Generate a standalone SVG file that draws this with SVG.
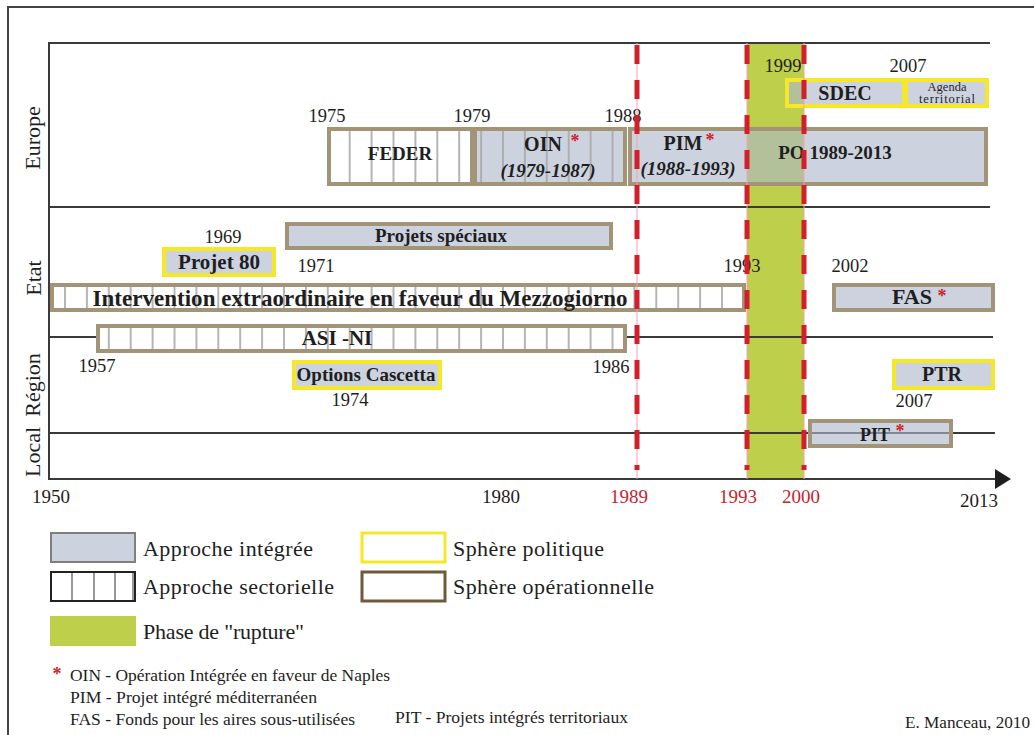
<svg xmlns="http://www.w3.org/2000/svg" width="1034" height="735" viewBox="0 0 1034 735">
<style>
text{font-family:"Liberation Serif","Times New Roman",serif;fill:#1e1e1e}
.b{font-weight:bold}
.bi{font-weight:bold;font-style:italic}
.yr{font-size:18.5px;text-anchor:middle}
.ax{font-size:19px;text-anchor:middle}
.red{fill:#c8232d}
.ast{fill:#d0202a;font-weight:bold;font-size:18px;text-anchor:middle}
.row{font-size:22px;text-anchor:middle}
.grid{stroke:#3a3a3a;stroke-width:2;fill:none}
.op{stroke:#a39377;stroke-width:4}
.po{stroke:#f5e82a;stroke-width:4}
.int{fill:#adb8cb;fill-opacity:0.62}
.wh{fill:#ffffff}
.note{font-size:16px}
.leg{font-size:22px}
.small{font-size:12.5px;text-anchor:middle}
</style>
<defs>
<pattern id="hatch" patternUnits="userSpaceOnUse" x="64" y="0" width="21.9" height="10">
<rect x="0" y="0" width="2" height="10" fill="#a8a8a8" fill-opacity="0.85"/>
</pattern>
</defs>

<!-- frame -->
<path d="M8 735 V7 H1034" stroke="#444" stroke-width="2" fill="none"/>

<!-- rupture phase -->
<rect id="rupture" x="747" y="43" width="57" height="436" fill="#bdcf4b"/>

<!-- grid -->
<g id="grid">
<line class="grid" x1="48" y1="43" x2="990" y2="43"/>
<line class="grid" x1="48" y1="207" x2="990" y2="207"/>
<line class="grid" x1="48" y1="337" x2="993" y2="337"/>
<line class="grid" x1="48" y1="433" x2="995" y2="433"/>
<line class="grid" x1="49" y1="42" x2="49" y2="480"/>
<line class="grid" x1="48" y1="479" x2="998" y2="479"/>
<polygon points="995,469 1011,479 995,489" fill="#1e1e1e"/>
</g>

<!-- row labels -->
<text class="row" transform="translate(40,138) rotate(-90)">Europe</text>
<text class="row" transform="translate(41,278) rotate(-90)">Etat</text>
<text class="row" transform="translate(40,385) rotate(-90)">Région</text>
<text class="row" transform="translate(40,452) rotate(-90)">Local</text>

<!-- Europe -->
<g id="feder">
<rect class="wh" x="329" y="129" width="143" height="55"/>
<rect fill="url(#hatch)" x="329" y="129" width="143" height="55"/>
<rect class="op" fill="none" x="329" y="129" width="143" height="55"/>
<text class="b" x="400" y="160" font-size="19" text-anchor="middle">FEDER</text>
</g>
<g id="oin">
<rect class="int" x="475" y="129" width="150" height="55"/>
<rect fill="url(#hatch)" x="475" y="129" width="150" height="55"/>
<rect class="op" fill="none" x="475" y="129" width="150" height="55"/>
<text class="b" x="543" y="151" font-size="20" text-anchor="middle">OIN</text>
<text class="ast" x="575" y="147">*</text>
<text class="bi" x="548" y="177" font-size="19" text-anchor="middle">(1979-1987)</text>
</g>
<g id="pim-po">
<rect class="int op" x="630" y="129" width="356" height="55"/>
<text class="b" x="683" y="150" font-size="20" text-anchor="middle">PIM</text>
<text class="ast" x="710" y="146">*</text>
<text class="bi" x="688" y="175" font-size="19" text-anchor="middle">(1988-1993)</text>
<text class="b" x="835" y="159" font-size="19" text-anchor="middle">PO 1989-2013</text>
</g>
<g id="sdec">
<rect class="int po" x="787" y="80" width="117" height="26"/>
<text class="b" x="845" y="100" font-size="20" text-anchor="middle">SDEC</text>
</g>
<g id="agenda">
<rect class="int po" x="906" y="80" width="81" height="26"/>
<text class="small" x="947" y="91">Agenda</text>
<text class="small" x="947" y="103" textLength="56">territorial</text>
</g>

<!-- Etat -->
<g id="projets-speciaux">
<rect class="int op" x="287" y="224" width="324" height="24"/>
<text class="b" x="441" y="242" font-size="19" text-anchor="middle">Projets spéciaux</text>
</g>
<g id="projet80">
<rect class="int po" x="164" y="249" width="110" height="26"/>
<text class="b" x="219" y="269" font-size="21" text-anchor="middle">Projet 80</text>
</g>
<g id="intervention">
<rect class="wh" x="52" y="285" width="692" height="25"/>
<rect fill="url(#hatch)" x="52" y="285" width="692" height="25"/>
<rect class="op" fill="none" x="52" y="285" width="692" height="25"/>
<text class="b" x="360" y="306" font-size="23" text-anchor="middle" textLength="535">Intervention extraordinaire en faveur du Mezzogiorno</text>
</g>
<g id="fas">
<rect class="int op" x="834" y="285" width="159" height="25"/>
<text class="b" x="912" y="304" font-size="22" text-anchor="middle">FAS</text>
<text class="ast" x="942" y="302">*</text>
</g>
<g id="asi-ni">
<rect class="wh" x="98" y="326" width="527" height="25"/>
<rect fill="url(#hatch)" x="98" y="326" width="527" height="25"/>
<rect class="op" fill="none" x="98" y="326" width="527" height="25"/>
<text class="b" x="337" y="345" font-size="21" text-anchor="middle">ASI -NI</text>
</g>

<!-- Région -->
<g id="options-cascetta">
<rect class="int po" x="294" y="362" width="146" height="26"/>
<text class="b" x="366" y="381" font-size="19" text-anchor="middle">Options Cascetta</text>
</g>
<g id="ptr">
<rect class="int po" x="894" y="361" width="99" height="27"/>
<text class="b" x="942" y="381" font-size="20" text-anchor="middle">PTR</text>
</g>

<!-- Local -->
<g id="pit">
<rect class="int op" x="810" y="421" width="141" height="25"/>
<text class="b" x="875" y="441" font-size="18" text-anchor="middle">PIT</text>
<text class="ast" x="900" y="437">*</text>
</g>

<!-- year labels -->
<g id="years">
<text class="yr" x="327" y="122">1975</text>
<text class="yr" x="472" y="122">1979</text>
<text class="yr" x="623" y="122">1988</text>
<text class="yr" x="783" y="72">1999</text>
<text class="yr" x="908" y="72">2007</text>
<text class="yr" x="223" y="243">1969</text>
<text class="yr" x="316" y="272">1971</text>
<text class="yr" x="742" y="272">1993</text>
<text class="yr" x="850" y="272">2002</text>
<text class="yr" x="97" y="372">1957</text>
<text class="yr" x="611" y="373">1986</text>
<text class="yr" x="350" y="406">1974</text>
<text class="yr" x="914" y="407">2007</text>
</g>

<!-- milestone dashed lines -->
<g id="connectors">
<g stroke="#f3a3ab" stroke-width="1">
<line x1="637" y1="43" x2="637" y2="479"/>
<line x1="747" y1="43" x2="747" y2="479"/>
<line x1="804" y1="43" x2="804" y2="479"/>
</g>
<g stroke="#d21f2c" stroke-width="5" stroke-dasharray="19 16">
<line x1="637" y1="45" x2="637" y2="470"/>
<line x1="747" y1="45" x2="747" y2="470"/>
<line x1="804" y1="45" x2="804" y2="470"/>
</g>
</g>

<!-- axis labels -->
<g id="axis-labels">
<text class="ax" x="51" y="503">1950</text>
<text class="ax" x="501" y="503">1980</text>
<text class="ax red" x="629" y="503">1989</text>
<text class="ax red" x="738" y="503">1993</text>
<text class="ax red" x="801" y="503">2000</text>
<text class="ax" x="979" y="507">2013</text>
</g>

<!-- legend -->
<g id="legend-integree">
<rect x="51" y="533" width="84" height="29" fill="#ccd3df" stroke="#7f7f7f" stroke-width="2"/>
<text class="leg" x="143" y="556" textLength="170">Approche intégrée</text>
</g>
<g id="legend-sectorielle">
<rect x="51" y="572" width="84" height="29" fill="#fff" stroke="#222" stroke-width="2"/>
<g stroke="#999" stroke-width="2"><line x1="72" y1="573" x2="72" y2="600"/><line x1="94" y1="573" x2="94" y2="600"/><line x1="115" y1="573" x2="115" y2="600"/><line x1="133" y1="573" x2="133" y2="600"/></g>
<text class="leg" x="143" y="594" textLength="191">Approche sectorielle</text>
</g>
<g id="legend-rupture">
<rect x="50" y="616" width="86" height="30" fill="#bdcf4b"/>
<text class="leg" x="143" y="639" textLength="161">Phase de "rupture"</text>
</g>
<g id="legend-politique">
<rect x="362" y="533" width="83" height="29" fill="#fff" stroke="#f5e82a" stroke-width="3"/>
<text class="leg" x="453" y="556" textLength="151">Sphère politique</text>
</g>
<g id="legend-operationnelle">
<rect x="362" y="572" width="83" height="29" fill="#fff" stroke="#6e5a3a" stroke-width="3"/>
<text class="leg" x="453" y="594" textLength="201">Sphère opérationnelle</text>
</g>

<!-- notes -->
<g id="notes">
<text class="ast" x="57" y="680" font-size="16">*</text>
<text class="note" x="70" y="681" textLength="320" lengthAdjust="spacingAndGlyphs">OIN - Opération Intégrée en faveur de Naples</text>
<text class="note" x="70" y="703" textLength="247" lengthAdjust="spacingAndGlyphs">PIM - Projet intégré méditerranéen</text>
<text class="note" x="70" y="725" textLength="285" lengthAdjust="spacingAndGlyphs">FAS - Fonds pour les aires sous-utilisées</text>
<text class="note" x="395" y="723" textLength="233" lengthAdjust="spacingAndGlyphs">PIT - Projets intégrés territoriaux</text>
<text class="note" x="905" y="728" textLength="125" lengthAdjust="spacingAndGlyphs">E. Manceau, 2010</text>
</g>
</svg>
